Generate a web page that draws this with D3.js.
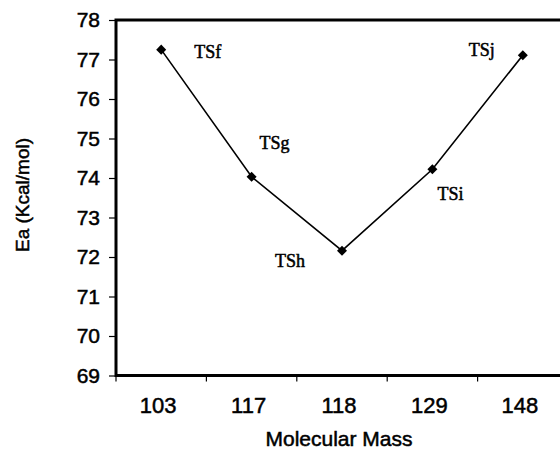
<!DOCTYPE html>
<html>
<head>
<meta charset="utf-8">
<script src="https://cdn.jsdelivr.net/npm/d3@7"></script>
<style>
  body { margin: 0; background: #fff; }
  svg { display: block; }
  .sans { font-family: "Liberation Sans", Arial, sans-serif; fill: #000; stroke: #000; stroke-width: 0.5px; }
</style>
</head>
<body>
<svg id="chart" width="560" height="450"></svg>
<script>
// data
const masses = ["103", "117", "118", "129", "148"];
const ea = [77.25, 74.03, 72.16, 74.22, 77.11];
const labels = ["TSf", "TSg", "TSh", "TSi", "TSj"];
const yTicks = [69, 70, 71, 72, 73, 74, 75, 76, 77, 78];

const svg = d3.select("#chart");
const plotLeft = 116, plotTop = 20, plotRight = 568, plotBottom = 375.5;

const x = d3.scaleBand().domain(masses).range([plotLeft, plotRight]);
const y = d3.scaleLinear().domain([69, 78]).range([plotBottom, plotTop]);

// y axis ticks + labels
svg.append("g")
  .attr("transform", `translate(${plotLeft},0)`)
  .call(d3.axisLeft(y).tickValues(yTicks).tickSize(7).tickPadding(9).tickFormat(d3.format("d")))
  .call(g => g.select(".domain").remove())
  .call(g => g.selectAll("line").attr("stroke", "#000").attr("stroke-width", 1.2))
  .call(g => g.selectAll("text")
    .attr("class", "sans")
    .attr("font-family", null)
    .attr("font-size", 21));

// x ticks at band edges, pointing down
const edges = masses.map(m => x(m)).concat([x.range()[1]]);
svg.append("g").selectAll("line")
  .data(edges)
  .join("line")
  .attr("x1", d => d).attr("x2", d => d)
  .attr("y1", plotBottom).attr("y2", plotBottom + 6)
  .attr("stroke", "#000").attr("stroke-width", 1.2);

// x labels
svg.append("g").selectAll("text")
  .data(masses)
  .join("text")
  .attr("class", "sans")
  .attr("x", d => x(d) + x.bandwidth() / 2 - 3)
  .attr("y", 413)
  .attr("text-anchor", "middle")
  .attr("font-size", 22)
  .text(d => d);

// frame
svg.append("rect")
  .attr("x", plotLeft).attr("y", plotTop)
  .attr("width", plotRight - plotLeft).attr("height", plotBottom - plotTop)
  .attr("fill", "none").attr("stroke", "#000").attr("stroke-width", 3);

// axis titles
svg.append("text")
  .attr("class", "sans")
  .attr("x", 339).attr("y", 446)
  .attr("text-anchor", "middle")
  .attr("font-size", 21)
  .text("Molecular Mass");

svg.append("text")
  .attr("class", "sans")
  .attr("transform", "translate(29,195) rotate(-90)")
  .attr("text-anchor", "middle")
  .attr("font-size", 19)
  .text("Ea (Kcal/mol)");

// series
const pts = masses.map((m, i) => ({ m, v: ea[i], label: labels[i] }));
const cx = d => x(d.m) + x.bandwidth() / 2;

svg.append("path")
  .datum(pts)
  .attr("fill", "none")
  .attr("stroke", "#000")
  .attr("stroke-width", 1.6)
  .attr("d", d3.line().x(cx).y(d => y(d.v)));

svg.append("g").selectAll("path")
  .data(pts)
  .join("path")
  .attr("transform", d => `translate(${cx(d)},${y(d.v)})`)
  .attr("d", d3.symbol(d3.symbolDiamond2, 64))
  .attr("fill", "#000");

// point labels, placed around each marker
const labelOffset = { TSf: [33, 8], TSg: [8, -28], TSh: [-67, 16], TSi: [5, 31], TSj: [-54, 1] };
svg.append("g").selectAll("text")
  .data(pts)
  .join("text")
  .attr("x", d => cx(d) + labelOffset[d.label][0])
  .attr("y", d => y(d.v) + labelOffset[d.label][1])
  .attr("font-family", "Liberation Serif, Times New Roman, serif")
  .attr("font-size", 18)
  .attr("stroke", "#000")
  .attr("stroke-width", 0.5)
  .text(d => d.label);
</script>
</body>
</html>
